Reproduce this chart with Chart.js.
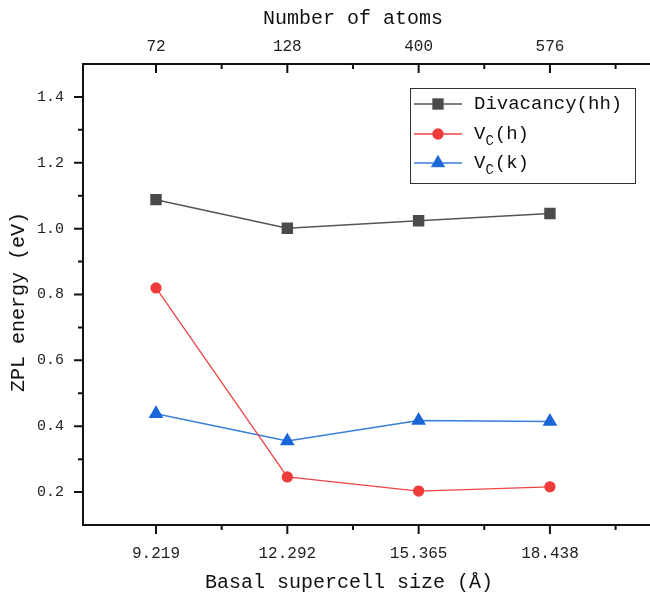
<!DOCTYPE html>
<html><head><meta charset="utf-8">
<script src="https://cdn.jsdelivr.net/npm/chart.js@4/dist/chart.umd.min.js"></script>
<style>html,body{margin:0;padding:0;background:#fff}#wrap{width:650px;height:598px}</style>
</head><body><div id="wrap"><canvas id="c" width="650" height="598"></canvas></div>
<script>
const sizeLabels = ["9.219", "12.292", "15.365", "18.438"];
const atomLabels = ["72", "128", "400", "576"];
const seriesNames = ["Divacancy(hh)", "V_C(h)", "V_C(k)"];
const divacancy = [1.088, 1.001, 1.024, 1.046];
const vcH = [0.820, 0.246, 0.203, 0.216];
const vcK = [0.438, 0.355, 0.417, 0.414];
const yTicks = [0.2, 0.4, 0.6, 0.8, 1.0, 1.2, 1.4];
const yMinor = [0.3, 0.5, 0.7, 0.9, 1.1, 1.3];
const xMinor = [0.5, 1.5, 2.5, 3.5];

const FONT = "'Liberation Mono', monospace";
const pts = arr => arr.map((v, i) => ({x: i, y: v}));

const axesPlugin = {
  id: 'axesPlugin',
  afterDraw(chart) {
    const ctx = chart.ctx, a = chart.chartArea;
    const xs = chart.scales.x, ys = chart.scales.y;
    ctx.save();
    ctx.strokeStyle = '#111'; ctx.lineWidth = 2; ctx.lineCap = 'butt';
    ctx.beginPath();
    ctx.moveTo(a.left, a.bottom); ctx.lineTo(a.left, a.top);
    ctx.moveTo(a.left - 1, a.top); ctx.lineTo(a.right, a.top);
    ctx.moveTo(a.left - 1, a.bottom); ctx.lineTo(a.right, a.bottom);
    yTicks.forEach(v => { const p = ys.getPixelForValue(v); ctx.moveTo(a.left - 9, p); ctx.lineTo(a.left, p); });
    yMinor.forEach(v => { const p = ys.getPixelForValue(v); ctx.moveTo(a.left - 5, p); ctx.lineTo(a.left, p); });
    [0,1,2,3].forEach(v => { const p = xs.getPixelForValue(v);
      ctx.moveTo(p, a.bottom); ctx.lineTo(p, a.bottom + 9);
      ctx.moveTo(p, a.top); ctx.lineTo(p, a.top + 9); });
    xMinor.forEach(v => { const p = xs.getPixelForValue(v);
      ctx.moveTo(p, a.bottom); ctx.lineTo(p, a.bottom + 5);
      ctx.moveTo(p, a.top); ctx.lineTo(p, a.top + 5); });
    ctx.stroke();

    ctx.fillStyle = '#111';
    ctx.font = "20px " + FONT;
    ctx.textAlign = 'center'; ctx.textBaseline = 'middle';
    const cx = (xs.getPixelForValue(0) + xs.getPixelForValue(3)) / 2;
    ctx.fillText('Number of atoms', cx, 19);
    ctx.fillText('Basal supercell size (Å)', cx - 4, 583);
    ctx.save();
    ctx.translate(19, 302); ctx.rotate(-Math.PI / 2);
    ctx.fillText('ZPL energy (eV)', 0, 0);
    ctx.restore();

    const bx = 410, by = 88, bw = 225, bh = 95;
    ctx.lineWidth = 1; ctx.strokeStyle = '#333';
    ctx.fillStyle = '#fff';
    ctx.fillRect(bx, by, bw, bh);
    ctx.strokeRect(bx + 0.5, by + 0.5, bw, bh);
    const rows = [104, 134, 163];
    chart.data.datasets.forEach((ds, i) => {
      const y = rows[i];
      ctx.strokeStyle = ds.borderColor; ctx.lineWidth = 1.5;
      ctx.beginPath(); ctx.moveTo(414, y); ctx.lineTo(462, y); ctx.stroke();
      Chart.helpers.drawPoint(ctx, {pointStyle: ds.pointStyle, radius: ds.pointRadius, rotation: 0, borderWidth: 1}, 438, y);
      ctx.fillStyle = ds.pointBackgroundColor; ctx.fill();
      ctx.fillStyle = '#111';
      ctx.textAlign = 'left'; ctx.textBaseline = 'middle';
      let x = 474;
      const lbl = seriesNames[i];
      const m = lbl.match(/^(.*?)_(.)(.*)$/);
      ctx.font = "19px " + FONT;
      if (m) {
        ctx.fillText(m[1], x, y); x += ctx.measureText(m[1]).width;
        ctx.font = "14px " + FONT;
        ctx.fillText(m[2], x, y + 7); x += ctx.measureText(m[2]).width + 1;
        ctx.font = "19px " + FONT;
        ctx.fillText(m[3], x, y);
      } else {
        ctx.fillText(lbl, x, y);
      }
    });
    ctx.restore();
  }
};

new Chart(document.getElementById('c'), {
  type: 'line',
  data: {
    datasets: [
      {label: seriesNames[0], data: pts(divacancy), borderColor: '#555555', backgroundColor: '#4a4a4a',
       pointBackgroundColor: '#4a4a4a', pointBorderColor: '#4a4a4a', pointStyle: 'rect', pointRadius: 7, borderWidth: 1.5},
      {label: seriesNames[1], data: pts(vcH), borderColor: '#ee4444', backgroundColor: '#ee3b3b',
       pointBackgroundColor: '#ee3b3b', pointBorderColor: '#ee3b3b', pointStyle: 'circle', pointRadius: 5, borderWidth: 1.3},
      {label: seriesNames[2], data: pts(vcK), borderColor: '#3a7fd8', backgroundColor: '#1a66d8',
       pointBackgroundColor: '#1a66d8', pointBorderColor: '#1a66d8', pointStyle: 'triangle', pointRadius: 7, borderWidth: 1.5}
    ]
  },
  options: {
    responsive: false, animation: false, devicePixelRatio: 1,
    layout: {padding: 0, autoPadding: false},
    plugins: {legend: {display: false}, tooltip: {enabled: false}},
    scales: {
      x: {type: 'linear', position: 'bottom', min: -0.556, max: 3.762,
          afterBuildTicks: s => { s.ticks = [0,1,2,3].map(v => ({value: v})); },
          afterFit: s => { s.height = 73; },
          border: {display: false}, grid: {display: false},
          ticks: {callback: (v) => sizeLabels[v], font: {family: FONT, size: 16}, color: '#222', padding: 11, maxRotation: 0, autoSkip: false}},
      x2: {type: 'linear', position: 'top', min: -0.556, max: 3.762,
          afterBuildTicks: s => { s.ticks = [0,1,2,3].map(v => ({value: v})); },
          afterFit: s => { s.height = 64; },
          border: {display: false}, grid: {display: false},
          ticks: {callback: (v) => atomLabels[v], font: {family: FONT, size: 16}, color: '#222', padding: 0, maxRotation: 0, autoSkip: false}},
      y: {type: 'linear', min: 0.1, max: 1.5,
          afterBuildTicks: s => { s.ticks = yTicks.map(v => ({value: v})); },
          afterFit: s => { s.width = 83; },
          border: {display: false}, grid: {display: false},
          ticks: {callback: v => v.toFixed(1), font: {family: FONT, size: 15}, color: '#222', padding: 11}}
    }
  },
  plugins: [axesPlugin]
});
</script></body></html>
